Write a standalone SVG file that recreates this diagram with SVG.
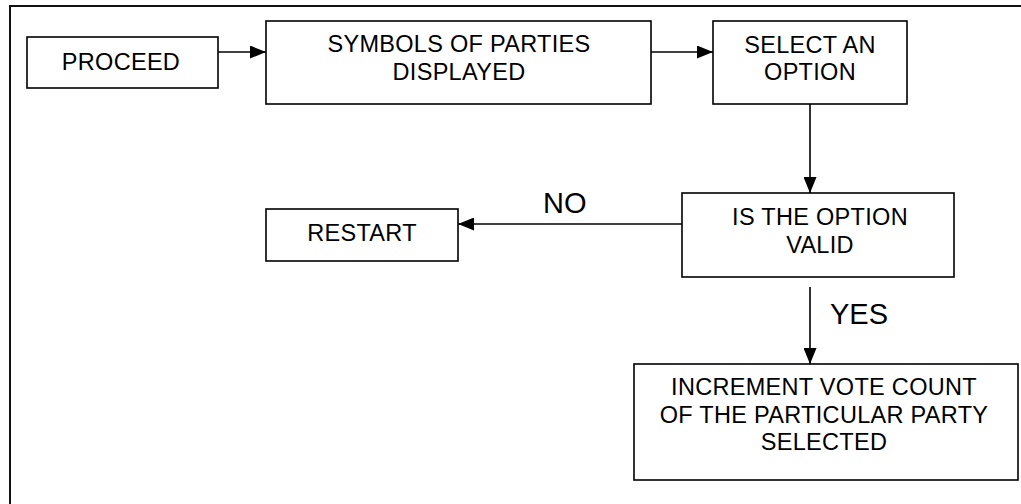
<svg xmlns="http://www.w3.org/2000/svg" width="1021" height="504" viewBox="0 0 1021 504">
<style>
.box{fill:#fff;stroke:#000;stroke-width:1.6}
.t{font-family:"Liberation Sans",Arial,sans-serif;font-size:23.5px;letter-spacing:0.3px;fill:#000;text-anchor:middle}
.lbl{font-family:"Liberation Sans",Arial,sans-serif;font-size:29px;fill:#000}
.c{stroke:#000;stroke-width:1.6;fill:none;marker-end:url(#ah)}
</style>
<defs>
<marker id="ah" markerWidth="16" markerHeight="13" refX="16" refY="6.5" orient="auto" markerUnits="userSpaceOnUse">
<path d="M0,0 L16,6.5 L0,13 Z" fill="#000"/>
</marker>
</defs>
<rect width="1021" height="504" fill="#fff"/>
<path d="M10,504 L10,6 L1021,6" fill="none" stroke="#111" stroke-width="2"/>
<g id="connectors">
<line class="c" x1="218" y1="52" x2="266" y2="52"/>
<line class="c" x1="651" y1="52" x2="713" y2="52"/>
<line class="c" x1="810" y1="104" x2="810" y2="193"/>
<line class="c" x1="682" y1="224" x2="458" y2="224"/>
<line class="c" x1="810" y1="287" x2="810" y2="364"/>
<text class="lbl" x="543" y="213">NO</text>
<text class="lbl" x="830" y="324">YES</text>
</g>
<g id="proceed">
<rect class="box" x="27" y="37" width="191" height="51"/>
<text class="t" x="121" y="69.5">PROCEED</text>
</g>
<g id="symbols">
<rect class="box" x="266" y="21" width="385" height="83"/>
<text class="t" x="459" y="52">SYMBOLS OF PARTIES</text>
<text class="t" x="459" y="80">DISPLAYED</text>
</g>
<g id="select">
<rect class="box" x="713" y="21" width="194" height="83"/>
<text class="t" x="810" y="53">SELECT AN</text>
<text class="t" x="810" y="80">OPTION</text>
</g>
<g id="valid">
<rect class="box" x="682" y="193" width="272" height="84"/>
<text class="t" x="820" y="225">IS THE OPTION</text>
<text class="t" x="820" y="252.5">VALID</text>
</g>
<g id="restart">
<rect class="box" x="266" y="209" width="192" height="52"/>
<text class="t" x="362" y="241">RESTART</text>
</g>
<g id="increment">
<rect class="box" x="634" y="364" width="384" height="116"/>
<text class="t" x="824" y="395">INCREMENT VOTE COUNT</text>
<text class="t" x="824" y="422.5">OF THE PARTICULAR PARTY</text>
<text class="t" x="824" y="450">SELECTED</text>
</g>
</svg>
